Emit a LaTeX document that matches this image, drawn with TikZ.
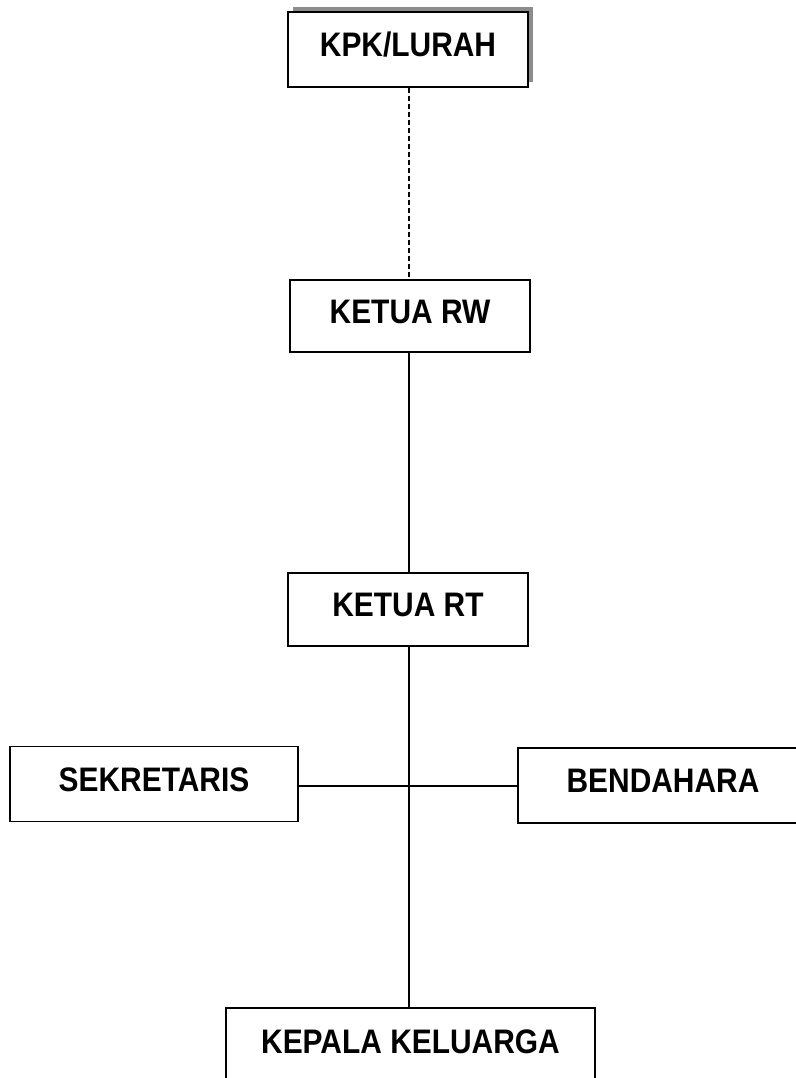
\documentclass[tikz,border=0pt]{standalone}
\usepackage{fontspec}
\setmainfont{Liberation Sans}[FakeStretch=0.88]
\usetikzlibrary{shadows}
\tikzset{
  orgbox/.style={
    draw=black,
    fill=white,
    line width=1.4pt,
    inner sep=0pt,
    minimum width=240pt,
    minimum height=74pt,
    text height=24pt,
    text depth=10pt,
    font=\fontsize{34}{40}\selectfont\bfseries
  },
  link/.style={
    draw=black,
    line width=1.4pt
  },
  dottedlink/.style={
    draw=black,
    line width=1.2pt,
    dash pattern=on 5pt off 3pt
  }
}
\begin{document}
\begin{tikzpicture}[x=1pt,y=-1pt]
\useasboundingbox (0,0) rectangle (795,1078);

% struktur organisasi RT
\node[orgbox, minimum height=75pt,
  drop shadow={shadow xshift=5pt, shadow yshift=5pt, fill=black!45, opacity=1}]
  (kpk) at (408,49.5) {KPK/LURAH};
\node[orgbox, minimum height=72pt] (rw) at (410,316) {KETUA RW};
\node[orgbox, minimum height=73pt] (rt) at (408,609.5) {KETUA RT};
\node[orgbox, minimum width=288pt, minimum height=75pt] (sek) at (154,784) {SEKRETARIS};
\node[orgbox, minimum width=290pt, minimum height=75pt] (ben) at (663,785.5) {BENDAHARA};
\node[orgbox, minimum width=369pt, minimum height=76pt] (kk) at (410.5,1046) {KEPALA KELUARGA};

\coordinate (axis) at (409,0);

\draw[dottedlink] (axis |- kpk.south) -- (axis |- rw.north);
\draw[link] (axis |- rw.south) -- (axis |- rt.north);
\draw[link] (axis |- rt.south) -- (axis |- kk.north);
\draw[link] (sek.east |- 0,786) -- (ben.west |- 0,786);

\end{tikzpicture}
\end{document}
